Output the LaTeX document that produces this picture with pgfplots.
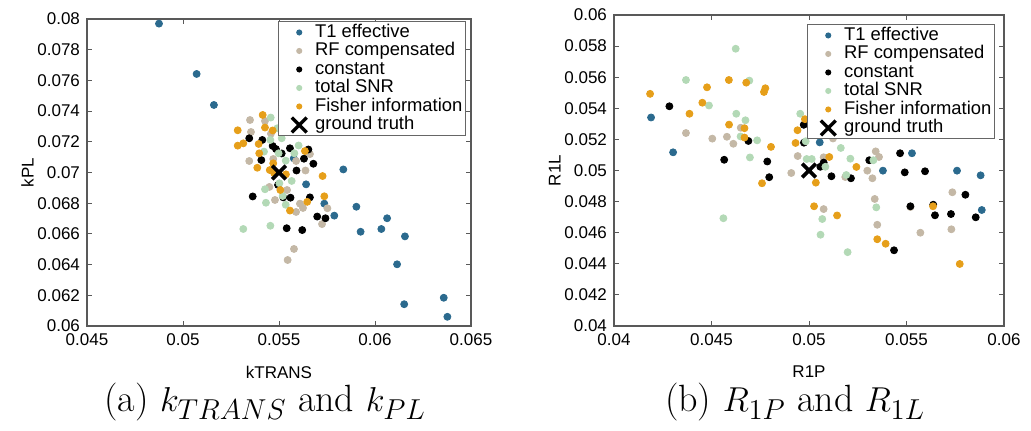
\documentclass[border=0pt]{standalone}
\usepackage{pgfplots}
\pgfplotsset{compat=1.18}
\usepackage{fontspec}
\setsansfont{Liberation Sans}
\definecolor{t1c}{HTML}{2B6A8E}
\definecolor{rfc}{HTML}{C4B8A6}
\definecolor{snrc}{HTML}{B3D9B6}
\definecolor{fic}{HTML}{E69F1A}
\pgfplotsset{
  myax/.style={
    scale only axis,
    enlargelimits=false,
    axis line style={black!65, line width=0.6pt},
    major tick style={black!65, line width=0.5pt},
    major tick length=2.5pt,
    tick align=inside,
    scaled ticks=false,
    tick label style={font=\sffamily\fontsize{8.5}{10}\selectfont, /pgf/number format/fixed, /pgf/number format/precision=3, /pgf/number format/assume math mode=true},
    xticklabel style={yshift=-0.5pt},
    xlabel style={font=\sffamily\fontsize{8.5}{10}\selectfont, yshift=-3pt},
    ylabel style={font=\sffamily\fontsize{8.5}{10}\selectfont, yshift=-5pt},
    legend cell align=left,
    legend style={font=\sffamily\fontsize{9.2}{10}\selectfont, draw=black!60, line width=0.6pt, fill=white, inner xsep=1pt, inner ysep=0.8pt, row sep=0pt, column sep=0pt, at={(1,1)}, anchor=north east,
      nodes={inner sep=0.5pt, text height=6.5pt, text depth=1.75pt}},
  },
  dotA/.style={only marks, mark=*, mark size=1.75pt, color=#1, legend image code/.code={\path (0pt,0pt) (15pt,0pt); \fill[#1] (8.5pt,0pt) circle (1.2pt);}},
  gtx/.style={only marks, mark=x, mark size=4.8pt, line width=1.9pt, color=black, mark options={line cap=butt}, legend image code/.code={\path (0pt,0pt) (15pt,0pt); \draw[black, line width=1.7pt] (8.5pt-3.7pt,-3.7pt) -- (8.5pt+3.7pt,3.7pt) (8.5pt-3.7pt,3.7pt) -- (8.5pt+3.7pt,-3.7pt);}},
}
\begin{document}
\begin{tikzpicture}
\useasboundingbox (0,0) rectangle (515.5pt,215pt);
\begin{axis}[myax,
  at={(43.5pt,52pt)}, anchor=south west,
  width=192pt, height=153.5pt,
  xmin=0.045, xmax=0.065, ymin=0.06, ymax=0.08,
  xtick={0.045,0.05,0.055,0.06,0.065},
  ytick={0.06,0.062,0.064,0.066,0.068,0.07,0.072,0.074,0.076,0.078,0.08},
  xlabel={kTRANS}, ylabel={kPL},
  legend style={xshift=-2.5pt, yshift=-1pt},
]
\addplot[dotA=t1c] coordinates {(0.04875,0.0797)(0.05071,0.07642)(0.05161,0.0744)(0.05577,0.07092)(0.05641,0.06923)(0.05835,0.0702)(0.05736,0.06797)(0.05788,0.06719)(0.05903,0.06777)(0.05925,0.06614)(0.06033,0.06632)(0.06063,0.06702)(0.06156,0.06584)(0.06115,0.06402)(0.06152,0.06142)(0.06358,0.06184)(0.06377,0.0606)};
\addlegendentry{T1 effective}
\addplot[dotA=rfc] coordinates {(0.05349,0.07342)(0.05354,0.07264)(0.05427,0.07336)(0.05458,0.07253)(0.05345,0.07075)(0.0547,0.07088)(0.05589,0.07075)(0.05638,0.07013)(0.05661,0.0712)(0.0545,0.06906)(0.05542,0.06886)(0.05479,0.06821)(0.05609,0.06797)(0.05625,0.06769)(0.05589,0.06743)(0.05752,0.06767)(0.05724,0.06664)(0.05578,0.06502)(0.05545,0.0643)};
\addlegendentry{RF compensated}
\addplot[dotA=black] coordinates {(0.05345,0.07223)(0.05413,0.07212)(0.05467,0.07173)(0.05484,0.07153)(0.05557,0.07158)(0.05653,0.0715)(0.05408,0.07081)(0.05514,0.07124)(0.0563,0.0709)(0.05679,0.07057)(0.05591,0.07013)(0.05363,0.06844)(0.05522,0.06838)(0.0556,0.06836)(0.05661,0.06838)(0.05699,0.06713)(0.05742,0.06702)(0.0554,0.06637)(0.05621,0.06625)(0.05495,0.06919)};
\addlegendentry{constant}
\addplot[dotA=snrc] coordinates {(0.05457,0.07358)(0.05491,0.07288)(0.05455,0.07212)(0.05514,0.07223)(0.05602,0.07176)(0.05422,0.07136)(0.05498,0.07125)(0.0558,0.07125)(0.05535,0.07077)(0.05566,0.06945)(0.05502,0.0693)(0.05427,0.06891)(0.05519,0.06847)(0.05432,0.06803)(0.05535,0.0679)(0.05314,0.06632)(0.05455,0.06653)};
\addlegendentry{total SNR}
\addplot[dotA=fic] coordinates {(0.05415,0.07375)(0.05285,0.07275)(0.05314,0.0719)(0.05285,0.07175)(0.05427,0.07293)(0.05467,0.07274)(0.05394,0.07186)(0.05397,0.07125)(0.05387,0.07031)(0.05635,0.0714)(0.05727,0.06977)(0.05452,0.07016)(0.0547,0.0706)(0.05474,0.06997)(0.05536,0.06988)(0.05507,0.06886)(0.05736,0.06845)(0.05647,0.06809)(0.05557,0.06752)};
\addlegendentry{Fisher information}
\addplot[gtx] coordinates {(0.055,0.07)};
\addlegendentry{ground truth}
\end{axis}
\begin{axis}[myax,
  at={(307pt,52pt)}, anchor=south west,
  width=195pt, height=155.5pt,
  xmin=0.04, xmax=0.06, ymin=0.04, ymax=0.06,
  xtick={0.04,0.045,0.05,0.055,0.06},
  ytick={0.04,0.042,0.044,0.046,0.048,0.05,0.052,0.054,0.056,0.058,0.06},
  xlabel={R1P}, ylabel={R1L},
  legend style={xshift=-4.5pt, yshift=-4.5pt},
]
\addplot[dotA=t1c] coordinates {(0.0419,0.05341)(0.04303,0.05117)(0.05055,0.05181)(0.05379,0.04999)(0.05528,0.05111)(0.05759,0.04999)(0.0588,0.04969)(0.05886,0.04746)};
\addlegendentry{T1 effective}
\addplot[dotA=rfc] coordinates {(0.04369,0.05241)(0.04504,0.05205)(0.04579,0.05217)(0.04612,0.05172)(0.0465,0.05275)(0.04909,0.04984)(0.04942,0.05093)(0.05123,0.05206)(0.05075,0.05085)(0.05186,0.04958)(0.05342,0.05123)(0.05359,0.05087)(0.05299,0.04999)(0.05325,0.0495)(0.05735,0.0486)(0.05337,0.04817)(0.05075,0.04752)(0.0552,0.04765)(0.05571,0.046)(0.0573,0.04622)(0.0535,0.04651)};
\addlegendentry{RF compensated}
\addplot[dotA=black] coordinates {(0.04284,0.05413)(0.04565,0.05069)(0.04689,0.0519)(0.04786,0.05058)(0.04796,0.04957)(0.04973,0.05294)(0.04974,0.05179)(0.05075,0.05051)(0.05058,0.05024)(0.05115,0.04963)(0.05215,0.0495)(0.05309,0.05066)(0.05467,0.05111)(0.05491,0.04988)(0.05595,0.04995)(0.05802,0.04844)(0.0552,0.0477)(0.05637,0.0478)(0.05646,0.04712)(0.05728,0.0472)(0.05855,0.04699)(0.05436,0.04487)};
\addlegendentry{constant}
\addplot[dotA=snrc] coordinates {(0.04369,0.05582)(0.04624,0.05783)(0.04694,0.05578)(0.04487,0.05418)(0.04627,0.05365)(0.04674,0.05323)(0.04649,0.05219)(0.04734,0.05194)(0.04697,0.05084)(0.04561,0.04693)(0.04955,0.05365)(0.04983,0.05188)(0.04988,0.05074)(0.05014,0.05074)(0.05163,0.05145)(0.05084,0.05024)(0.05212,0.05076)(0.05191,0.04971)(0.0533,0.05066)(0.05345,0.04763)(0.05068,0.04688)(0.05059,0.04587)(0.05198,0.04475)};
\addlegendentry{total SNR}
\addplot[dotA=fic] coordinates {(0.04185,0.05493)(0.04477,0.05535)(0.04589,0.05582)(0.04678,0.05565)(0.04776,0.05529)(0.04769,0.05505)(0.04453,0.05436)(0.04387,0.05365)(0.0459,0.05295)(0.04669,0.05272)(0.04669,0.05212)(0.04805,0.05152)(0.04759,0.04918)(0.04931,0.05177)(0.04941,0.05259)(0.04979,0.0533)(0.05104,0.05087)(0.05243,0.05023)(0.05035,0.04922)(0.05026,0.0477)(0.05144,0.04711)(0.05636,0.0477)(0.0535,0.04558)(0.05393,0.04529)(0.05773,0.04399)};
\addlegendentry{Fisher information}
\addplot[gtx] coordinates {(0.05,0.05)};
\addlegendentry{ground truth}
\end{axis}
\node[font=\rmfamily\fontsize{19}{21}\selectfont] at (132.5pt,14pt) {(a) $k_{TRANS}$ and $k_{PL}$};
\node[font=\rmfamily\fontsize{19}{21}\selectfont] at (397.5pt,14pt) {(b) $R_{1P}$ and $R_{1L}$};
\end{tikzpicture}
\end{document}
